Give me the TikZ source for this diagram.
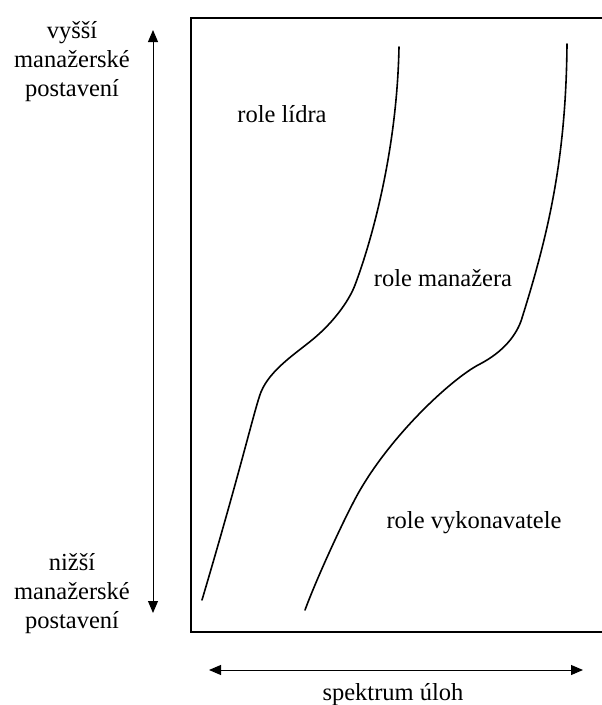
\documentclass[tikz,border=0pt]{standalone}
\usepackage{fontspec}
\setmainfont{Liberation Serif}
\usetikzlibrary{arrows.meta}
\tikzset{
  lbl/.style={inner sep=0pt, anchor=base, font=\fontsize{24.5}{29}\selectfont},
  frame/.style={line width=2.6pt, line join=miter},
  bound/.style={line width=1.6pt, line cap=round, line join=round},
  axis/.style={line width=1pt, {Triangle[length=12pt,width=10pt]}-{Triangle[length=12pt,width=10pt]}}
}
\begin{document}
\begin{tikzpicture}[x=1pt,y=-1pt]
\useasboundingbox (0,0) rectangle (602,705);
\fill[white] (0,0) rectangle (602,705);
% frame (right edge beyond page)
\draw[frame] (606,18) -- (191,18) -- (191,632) -- (606,632);
% boundary curves
\draw[bound] (399,47) .. controls (397,150) and (372,240) .. (355,285)
  .. controls (349,301) and (333,323) .. (312,340)
  .. controls (295,354) and (270,370) .. (261,392)
  .. controls (255,407) and (242,465) .. (202,600);
\draw[bound] (567,44) .. controls (566,160) and (548,235) .. (522,318)
  .. controls (517,335) and (503,352) .. (480,364)
  .. controls (452,378) and (385,440) .. (353,503)
  .. controls (343,522) and (318,575) .. (305,610);
% region labels
\node[lbl] (lidr) at (282,122) {role lídra};
\node[lbl] (man) at (443,286) {role manažera};
\node[lbl] (vyk) at (474,528) {role vykonavatele};
% vertical axis
\coordinate (vtop) at (153,30);
\coordinate (vbot) at (153,613);
\draw[axis] (vbot) -- (vtop);
\node[lbl] (t1) at (72,38) {vyšší};
\node[lbl] (t2) at (72,67) {manažerské};
\node[lbl] (t3) at (72,96) {postavení};
\node[lbl] (b1) at (72,570) {nižší};
\node[lbl] (b2) at (72,599) {manažerské};
\node[lbl] (b3) at (72,628) {postavení};
% horizontal axis
\coordinate (hl) at (209,670);
\coordinate (hr) at (583,670);
\draw[axis] (hl) -- (hr);
\node[lbl] (spek) at (393,700) {spektrum úloh};
\end{tikzpicture}
\end{document}
